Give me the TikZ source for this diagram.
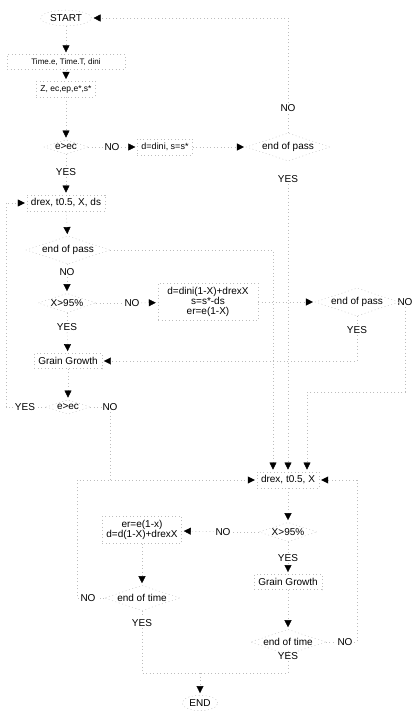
\documentclass[tikz,border=0pt]{standalone}
\usepackage{fontspec}
\setmainfont{Liberation Sans}
\usepackage{tikz}
\usetikzlibrary{arrows.meta,shapes.geometric}
\tikzset{flow/.style={fadeline,thin,dash pattern=on 1pt off 2.5pt},
arr/.style={flow,-{Triangle[length=7pt,width=7pt,color=black]},shorten >=2pt},
stepbox/.style={draw=fadeline,thin,dash pattern=on 1pt off 2.5pt,inner sep=4pt,align=center,font=\fontsize{10}{10}\selectfont},
test/.style={diamond,aspect=3,draw=fadeline,thin,dash pattern=on 1pt off 2.5pt,inner sep=0.5pt,font=\fontsize{10}{10}\selectfont},
term/.style={ellipse,draw=fadeline,thin,dash pattern=on 1pt off 2.5pt,inner sep=2pt,font=\fontsize{10}{10}\selectfont},
lbl/.style={inner sep=1.5pt,font=\fontsize{10}{10}\selectfont}}
\definecolor{fadeline}{HTML}{BDBDBD}

\begin{document}
\begin{tikzpicture}[x=1pt,y=-1pt]
\useasboundingbox (0,0) rectangle (417,715);
\node[term] (start) at (66,18) {START};
\node[stepbox,font=\fontsize{8}{8}\selectfont,minimum width=118pt] (init) at (66,62) {Time.e, Time.T, dini};
\node[stepbox,font=\fontsize{8.5}{9}\selectfont] (zvals) at (66,89) {Z, ec,ep,e*,s*};
\node[test] (dec1) at (66,147) {e>ec};
\node[lbl] (no1) at (112,147) {NO};
\node[stepbox,font=\fontsize{9}{9}\selectfont] (reset) at (165,147) {d=dini, s=s*};
\node[test] (pass1) at (288,147) {end of pass};
\node[lbl] (no2) at (288,108) {NO};
\node[lbl] (yes1) at (288,179) {YES};
\node[lbl] (yes2) at (66,172) {YES};
\node[stepbox] (drex1) at (66,203) {drex, t0.5, X, ds};
\node[test] (pass2) at (68,250) {end of pass};
\node[lbl] (no3) at (67,272) {NO};
\node[test] (frac1) at (67,303) {X>95\%};
\node[lbl] (no4) at (132,303) {NO};
\node[stepbox,minimum width=100pt] (upd1) at (208,302) {d=dini(1-X)+drexX\\s=s*-ds\\er=e(1-X)};
\node[test] (pass3) at (357,302) {end of pass};
\node[lbl] (no5) at (405,302) {NO};
\node[lbl] (yes3) at (357,330) {YES};
\node[lbl] (yes4) at (67,327) {YES};
\node[stepbox] (grain1) at (68,361) {Grain Growth};
\node[test] (dec2) at (68,407) {e>ec};
\node[lbl] (yes5) at (25,407) {YES};
\node[lbl] (no6) at (110,407) {NO};
\node[stepbox] (drex2) at (288,480) {drex, t0.5, X};
\node[test] (frac2) at (288,532) {X>95\%};
\node[lbl] (no7) at (223,532) {NO};
\node[stepbox] (upd2) at (142,530) {er=e(1-x)\\d=d(1-X)+drexX};
\node[lbl] (yes6) at (288,558) {YES};
\node[stepbox] (grain2) at (288,582) {Grain Growth};
\node[test] (time1) at (288,642) {end of time};
\node[lbl] (no8) at (345,642) {NO};
\node[lbl] (yes7) at (288,656) {YES};
\node[test] (time2) at (142,598) {end of time};
\node[lbl] (no9) at (88,598) {NO};
\node[lbl] (yes8) at (142,623) {YES};
\node[term] (theend) at (200,703) {END};
\coordinate (leftrail) at (6,300);
\coordinate (loop3) at (307,392);
\coordinate (rightrail) at (357,560);
\coordinate (lowrail) at (77,540);
\coordinate (join) at (200,673);
\draw[arr] (start) -- (init);
\draw[arr] (init) -- (zvals);
\draw[arr] (zvals) -- (dec1);
\draw[flow] (dec1) -- (no1);
\draw[arr] (no1) -- (reset);
\draw[arr] (reset) -- (pass1);
\draw[flow] (pass1) -- (no2);
\draw[arr] (no2) |- (start);
\draw[flow] (dec1) -- (yes2);
\draw[arr] (yes2) -- (drex1);
\draw[arr] (drex1) -- (pass2);
\draw[flow] (pass2) -- (no3);
\draw[arr] (no3) -- (frac1);
\draw[flow] (frac1) -- (no4);
\draw[arr] (no4) -- (upd1);
\draw[arr] (upd1) -- (pass3);
\draw[flow] (pass3) -- (no5);
\draw[arr] (no5) |- (loop3) -- (loop3 |- drex2.north);
\draw[flow] (pass3) -- (yes3);
\draw[arr] (yes3) |- (grain1);
\draw[flow] (frac1) -- (yes4);
\draw[arr] (yes4) -- (grain1);
\draw[arr] (grain1) -- (dec2);
\draw[flow] (dec2) -- (yes5);
\draw[arr] (yes5) -| (leftrail) |- (drex1);
\draw[flow] (dec2) -- (no6);
\draw[flow] (no6) -- (no6 |- drex2.west);
\draw[arr] (pass2) -| ([xshift=-15pt]drex2.north);
\draw[arr] (yes1) -- (drex2);
\draw[arr] (drex2) -- (frac2);
\draw[flow] (frac2) -- (no7);
\draw[arr] (no7) -- (upd2);
\draw[flow] (frac2) -- (yes6);
\draw[arr] (yes6) -- (grain2);
\draw[arr] (grain2) -- (time1);
\draw[flow] (time1) -- (no8);
\draw[arr] (no8) -| (rightrail) |- (drex2);
\draw[flow] (time1) -- (yes7);
\draw[flow] (yes7) |- (join);
\draw[arr] (upd2) -- (time2);
\draw[flow] (time2) -- (no9);
\draw[arr] (no9) -| (lowrail) |- (drex2);
\draw[flow] (time2) -- (yes8);
\draw[flow] (yes8) |- (join);
\draw[arr] (join) -- (theend);
\end{tikzpicture}
\end{document}
